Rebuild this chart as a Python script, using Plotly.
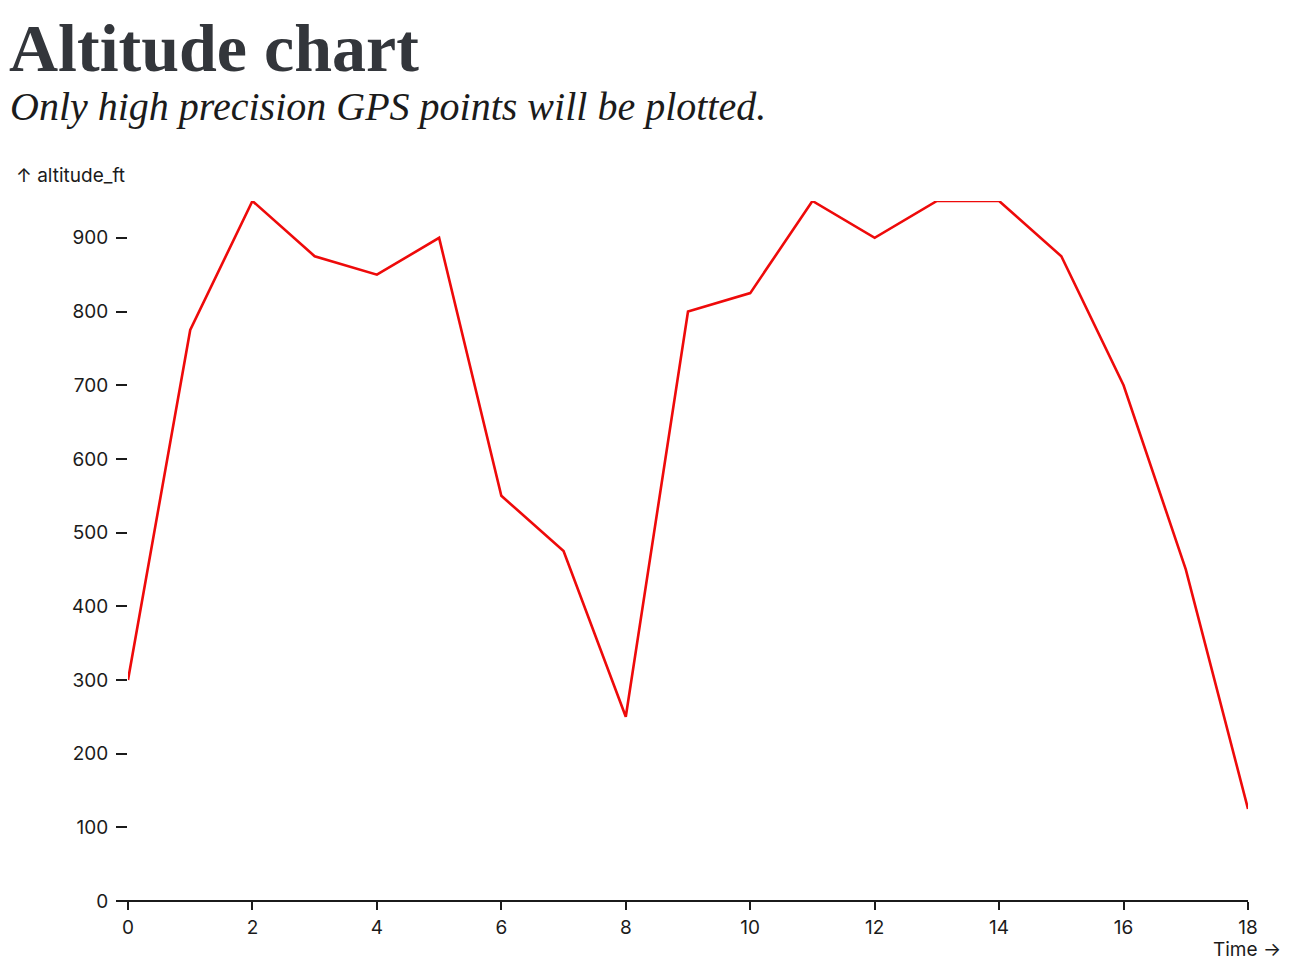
import plotly.graph_objects as go

time = list(range(19))
altitude_ft = [300, 775, 950, 875, 850, 900, 550, 475, 250, 800, 825, 950, 900, 950, 950, 875, 700, 450, 125]
y_ticks = [0, 100, 200, 300, 400, 500, 600, 700, 800, 900]
x_ticks = [0, 2, 4, 6, 8, 10, 12, 14, 16, 18]

W, H = 1310, 978
OFF = 8  # page body margin
# plot frame in reference (screen) pixels
FX0, FX1, FY0, FY1 = 128, 1248, 201, 901
L = FX0 - OFF
T = FY0 - OFF
R = W - (FX1 - OFF)
B = H - (FY1 - OFF)
PW = FX1 - FX0
PH = FY1 - FY0


def px(xp):
    return (xp - FX0) / PW


def py(yp):
    return (FY1 - yp) / PH


fig = go.Figure()
fig.add_trace(go.Scatter(
    x=time, y=altitude_ft, mode="lines",
    line=dict(color="#ee0a0a", width=2.6),
    cliponaxis=False, hoverinfo="skip", showlegend=False,
))

tick_font = dict(family="Inter", size=19, color="#1b1b1b")
fig.update_layout(
    width=W, height=H,
    margin=dict(l=L, r=R, t=T, b=B, pad=0),
    paper_bgcolor="white", plot_bgcolor="white",
    xaxis=dict(range=[0, 18], tickvals=x_ticks, ticks="outside", ticklen=8,
               tickwidth=1.5, tickcolor="#1b1b1b", showgrid=False, zeroline=False,
               showline=False, tickfont=tick_font, ticklabelstandoff=1),
    yaxis=dict(range=[0, 950], tickvals=y_ticks, ticks="outside", ticklen=11,
               tickwidth=1.5, tickcolor="#1b1b1b", showgrid=False, zeroline=False,
               showline=False, tickfont=tick_font, ticklabelstandoff=4),
)

# x axis baseline extending slightly left of the frame
fig.add_shape(type="line", xref="paper", yref="paper",
              x0=px(117), x1=px(1248), y0=0, y1=0,
              line=dict(color="#1b1b1b", width=2))

fig.add_annotation(text="<b>Altitude chart</b>", xref="paper", yref="paper",
                   x=px(8), y=py(OFF + 1), xanchor="left", yanchor="top",
                   showarrow=False, borderpad=0,
                   font=dict(family="Liberation Serif", size=68, color="#33363b"))
fig.add_annotation(text="<i>Only high precision GPS points will be plotted.</i>",
                   xref="paper", yref="paper",
                   x=px(8), y=py(107), xanchor="left", yanchor="middle",
                   showarrow=False,
                   font=dict(family="Liberation Serif", size=40, color="#1b1b1b"))
fig.add_annotation(text="↑ altitude_ft", xref="paper", yref="paper",
                   x=px(14), y=py(176), xanchor="left", yanchor="middle",
                   showarrow=False, font=dict(family="Inter", size=19, color="#1b1b1b"))
fig.add_annotation(text="Time →", xref="paper", yref="paper",
                   x=px(1283), y=py(949), xanchor="right", yanchor="middle",
                   showarrow=False, font=dict(family="Inter", size=19, color="#1b1b1b"))

fig.write_html("out.html")
